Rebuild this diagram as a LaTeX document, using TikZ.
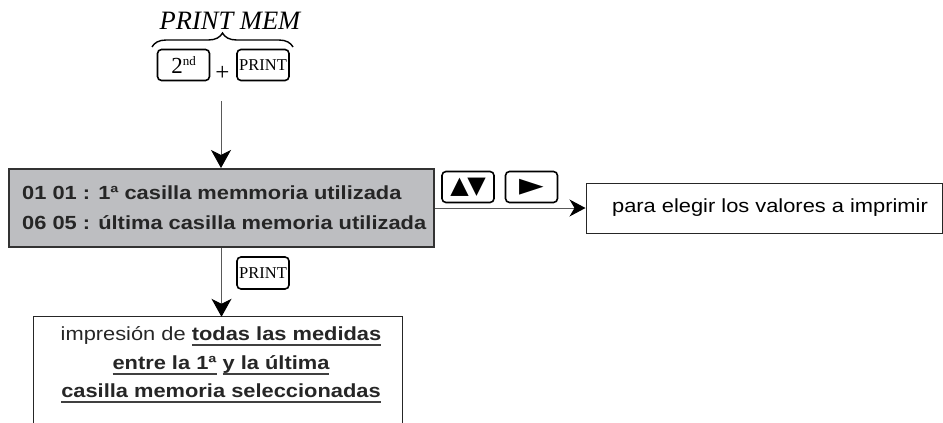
\documentclass[tikz,border=0pt]{standalone}
\usepackage{fontspec}
\setmainfont{Liberation Serif}
\newfontfamily\arialw[FakeStretch=1.15]{Liberation Sans}
\newfontfamily\symf{DejaVu Sans}
\usetikzlibrary{arrows.meta,decorations.pathreplacing}
\newcommand\myul[1]{\setbox0\hbox{#1}\rlap{\color{black!75}\rule[-5.5pt]{\wd0}{1.3pt}}\box0\relax}
\definecolor{boxgray}{HTML}{BDBEC1}
\tikzset{
  keybox/.style={draw=black, line width=1.6pt, rounded corners=4pt, minimum width=52pt, minimum height=31pt, inner sep=0pt},
  conn/.style={draw=black!65, line width=1pt, -{Stealth[length=18pt,width=20pt,inset=5pt,black]}},
  connh/.style={draw=black!65, line width=1pt, -{Stealth[length=16pt,width=17pt,inset=5pt,black]}},
  graytxt/.style={anchor=base west, inner sep=0pt, text=black!85, font=\arialw\bfseries\fontsize{19}{19}\selectfont},
  restxt/.style={anchor=base, inner sep=0pt, text=black!85, font=\arialw\fontsize{19}{19}\selectfont}
}
\begin{document}
\begin{tikzpicture}[x=1pt,y=-1pt]
\useasboundingbox (0,0) rectangle (943,423);
% title and brace
\node[anchor=base, inner sep=0pt, font=\itshape\fontsize{26.5}{26.5}\selectfont] (pm) at (230,29) {PRINT MEM};
\draw[decorate, decoration={brace, amplitude=14pt}, line width=1.4pt] (152,47) -- (293,47);
% keys
\node[keybox] (k2nd) at (183.5,65) {\fontsize{23}{23}\selectfont 2\raisebox{8pt}{\fontsize{13}{13}\selectfont nd}};
\node[inner sep=0pt, font=\fontsize{25}{25}\selectfont] (plus) at (222.5,73) {+};
\node[keybox] (kprint) at (263,65) {\fontsize{16.5}{16.5}\selectfont PRINT};
\coordinate (top) at (221,101);
% memory box
\node[draw=black!80, line width=2pt, fill=boxgray, minimum width=425pt, minimum height=78pt, inner sep=0pt] (mem) at (221.5,208) {};
\node[graytxt] (l1) at (22,199) {01 01 : 1ª casilla memmoria utilizada};
\node[graytxt] (l2) at (22,229) {06 05 : última casilla memoria utilizada};
\draw[conn] (top) -- (top |- mem.north);
% arrow keys and right box
\node[keybox] (kud) at (468,187) {\symf\fontsize{24}{24}\selectfont ▲\kern-1.5pt▼};
\node[keybox] (kr) at (531.5,187) {\symf\fontsize{32}{32}\selectfont ►};
\node[draw=black!85, line width=1pt, minimum width=356pt, minimum height=50pt, inner sep=0pt, font=\arialw\fontsize{19}{19}\selectfont] (rb) at (764,208) {\hspace{12pt}para elegir los valores a imprimir};
\draw[connh] (mem.east) -- (rb.west);
% print key and result box
\node[keybox, minimum height=32pt] (kprint2) at (263,273) {\fontsize{16.5}{16.5}\selectfont PRINT};
\node[minimum width=368pt, minimum height=106pt, inner sep=0pt] (res) at (218,370) {};
\draw[line width=1pt, draw=black!85] (res.south west) -- (res.north west) -- (res.north east) -- (res.south east);
\draw[conn] (mem.south) -- (mem.south |- res.north);
\node[restxt] (r1) at (221,340) {impresión de \myul{\bfseries todas las medidas}};
\node[restxt] (r2) at (221,369) {\bfseries\myul{entre la 1ª} \myul{y la última}};
\node[restxt] (r3) at (221,397) {\bfseries\myul{casilla memoria seleccionadas}};
\end{tikzpicture}
\end{document}
